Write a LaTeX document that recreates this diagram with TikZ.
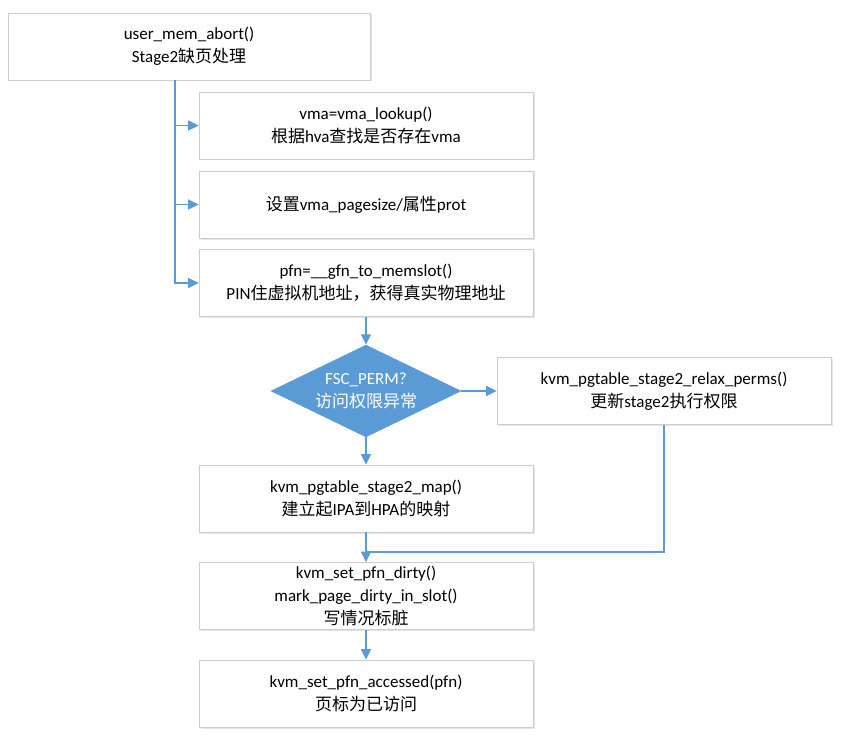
\documentclass[tikz,border=0pt]{standalone}
\usepackage{fontspec}
\setmainfont{Carlito}
\newfontfamily\cjk{Noto Sans CJK SC}
\newcommand{\zh}[1]{{\cjk #1}}
\usetikzlibrary{shapes.geometric,arrows.meta,shadows}
\definecolor{flowblue}{RGB}{91,155,213}
\definecolor{boxgray}{RGB}{205,205,205}
\tikzset{
  proc/.style={draw=boxgray, fill=white, line width=0.8pt, minimum width=334pt, minimum height=67pt, align=center, inner sep=0pt, font=\fontsize{17}{23}\selectfont, drop shadow={shadow xshift=1.5pt, shadow yshift=-1.5pt, fill=black, opacity=0.10}},
  check/.style={diamond, fill=flowblue, draw=flowblue, minimum width=190pt, minimum height=92pt, aspect=2, inner sep=0pt, align=center, text=white, font=\fontsize{17}{23}\selectfont},
  flow/.style={draw=flowblue, line width=1.5pt, -{Triangle[length=10.5pt,width=10pt]}},
  link/.style={draw=flowblue, line width=1.5pt}
}
\begin{document}
\begin{tikzpicture}[x=1pt,y=-1pt]
\useasboundingbox (0,0) rectangle (856,738);
\node[proc, minimum width=362pt] (abort) at (189,46.5) {user\_mem\_abort()\\Stage2\zh{缺页处理}};
\node[proc] (lookup) at (366,125.5) {vma=vma\_lookup()\\\zh{根据}hva\zh{查找是否存在}vma};
\node[proc] (pagesize) at (366,204.5) {\zh{设置}vma\_pagesize/\zh{属性}prot};
\node[proc] (memslot) at (366,283) {pfn=\_\_gfn\_to\_memslot()\\PIN\zh{住虚拟机地址，获得真实物理地址}};
\node[check] (perm) at (366,391) {FSC\_PERM?\\\zh{访问权限异常}};
\node[proc] (relax) at (664,391) {kvm\_pgtable\_stage2\_relax\_perms()\\\zh{更新}stage2\zh{执行权限}};
\node[proc] (map) at (366,498.5) {kvm\_pgtable\_stage2\_map()\\\zh{建立起}IPA\zh{到}HPA\zh{的映射}};
\node[proc] (dirty) at (366,596) {kvm\_set\_pfn\_dirty()\\mark\_page\_dirty\_in\_slot()\\\zh{写情况标脏}};
\node[proc] (accessed) at (366,693.5) {kvm\_set\_pfn\_accessed(pfn)\\\zh{页标为已访问}};
\coordinate (trunk) at (175,0);
\coordinate (join) at (366,552);
 \draw[flow] (abort.south -| trunk) |- (lookup.west);
 \draw[flow] (abort.south -| trunk) |- (pagesize.west);
 \draw[flow] (abort.south -| trunk) |- (memslot.west);
 \draw[flow] (memslot) -- (perm);
 \draw[flow] (perm) -- (relax);
 \draw[flow] (perm) -- (map);
 \draw[link] (relax.south) |- (join);
 \draw[flow] (map) -- (dirty);
 \draw[flow] (dirty) -- (accessed);
\end{tikzpicture}
\end{document}
